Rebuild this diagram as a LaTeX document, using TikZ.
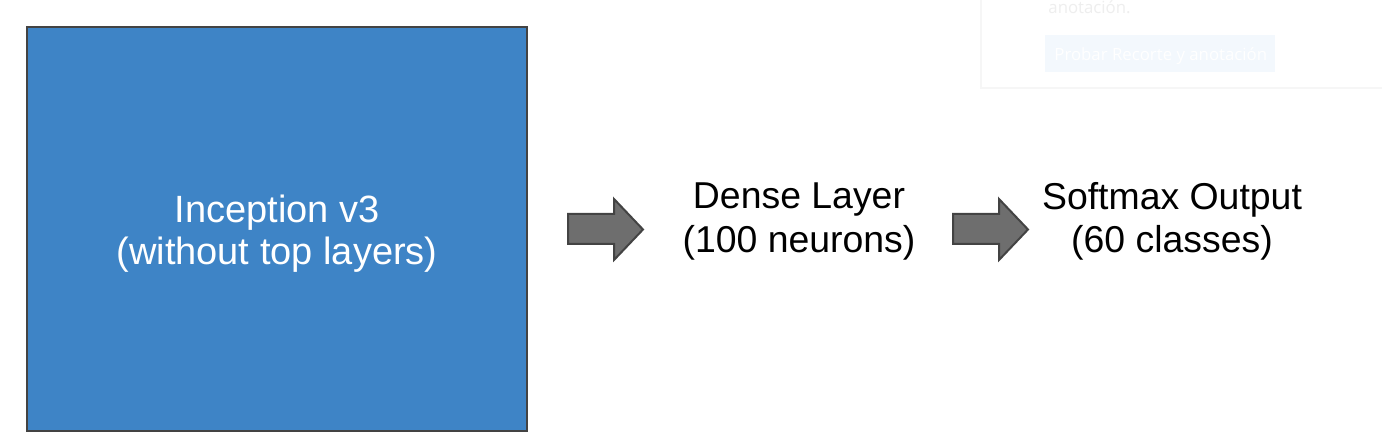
\documentclass[tikz,border=0pt]{standalone}
\usepackage{fontspec}
\setmainfont{Liberation Sans}
\newfontfamily\uifont{Open Sans}
\usepackage{xcolor}
\usepackage{tikz}
\definecolor{incblue}{HTML}{3E84C6}
\definecolor{edgegray}{HTML}{434343}
\definecolor{arrowgray}{HTML}{6E6E6E}
\definecolor{cardline}{HTML}{F6F6F6}
\definecolor{btnblue}{HTML}{F3F8FD}
\definecolor{fainttext}{HTML}{EEEEEE}
\tikzset{
	layertext/.style={align=center,inner sep=0pt,font=\fontsize{18.7}{21.8}\selectfont},
	blockarrow/.style={fill=arrowgray,draw=edgegray,line width=1pt,line join=miter},
	cardtext/.style={anchor=base west,inner sep=0pt,font=\uifont\fontsize{8.4}{10}\selectfont}
}
\begin{document}
\begin{tikzpicture}[x=0.5pt,y=-0.5pt]
		\useasboundingbox (0,0) rectangle (1382,448);
		\clip (0,0) rectangle (1382,448);
		% faint card in the corner
		\fill [cardline] (980,-10) rectangle (1392,89);
		\fill [white] (982,-10) rectangle (1392,87);
		\fill [btnblue] (1045,35) rectangle (1275,72.5);
		\node (cardnote) [cardtext,text=fainttext] at (1048,14) {anotación.};
		\node (cardbutton) [cardtext,text=white] at (1054,61) {Probar Recorte y anotación};
		% network
		\node (incep) [draw=edgegray,fill=incblue,line width=1pt,minimum width=250pt,minimum height=202pt,inner sep=0pt] at (277,229) {};
		\node (incepname) [layertext,text=white,font=\fontsize{19}{21}\selectfont] at (277,234) {Inception v3\\(without top layers)};
		\draw [blockarrow] (568,214) -- (614,214) -- (614,199) -- (643,229.5) -- (614,260) -- (614,244) -- (568,244) -- cycle;
		\node (dense) [layertext] at (799,221.5) {Dense Layer\\(100 neurons)};
		\draw [blockarrow] (953,214) -- (999,214) -- (999,199) -- (1028,229.5) -- (999,260) -- (999,244) -- (953,244) -- cycle;
		\node (softmax) [layertext] at (1172,221.5) {Softmax Output\\(60 classes)};
	\end{tikzpicture}
\end{document}
